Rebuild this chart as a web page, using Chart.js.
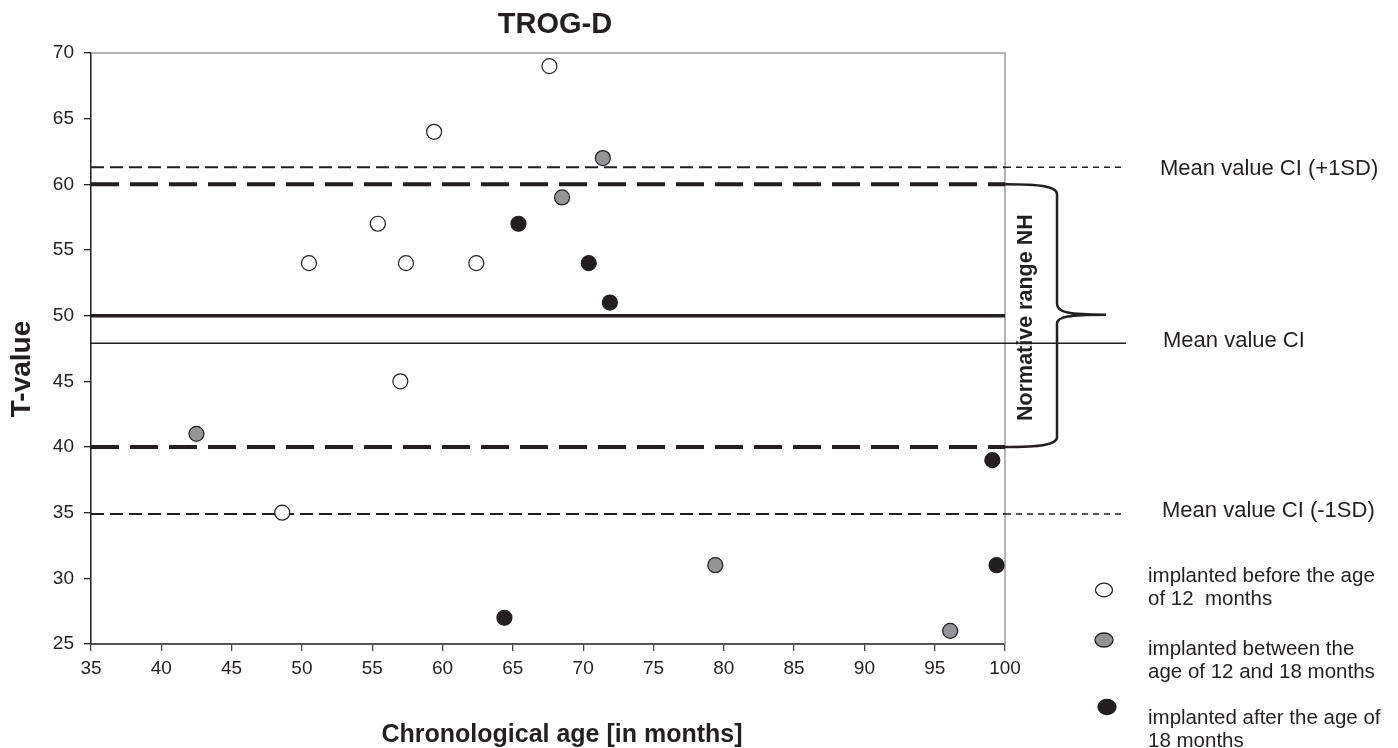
<!DOCTYPE html>
<html>
<head>
<meta charset="utf-8">
<script src="https://cdn.jsdelivr.net/npm/chart.js@4.4.1/dist/chart.umd.min.js"></script>
<style>
  html, body { margin: 0; padding: 0; background: #fff; }
  canvas { display: block; }
</style>
</head>
<body>
<canvas id="chart" width="1398" height="748"></canvas>
<script>
// values
const ageBefore12 = [67.6, 59.4, 55.4, 50.5, 57.4, 62.4, 57.0, 48.6];
const tBefore12 = [69, 64, 57, 54, 54, 54, 45, 35];
const ageBetween = [71.4, 68.5, 42.5, 79.4, 96.1];
const tBetween = [62, 59, 41, 31, 26];
const ageAfter18 = [65.4, 70.4, 71.9, 64.4, 99.1, 99.4];
const tAfter18 = [57, 54, 51, 27, 39, 31];

const normMean = 50, normUpper = 60, normLower = 40;     // normative range NH
const ciMean = 47.9, ciPlus = 61.3, ciMinus = 34.9;      // mean value CI +- 1SD
const xMin = 35, xMax = 100, xLabelEnd = 108.6;
const yMin = 25, yMax = 70;

const legendLabels = [
  ['implanted before the age', 'of 12  months'],
  ['implanted between the', 'age of 12 and 18 months'],
  ['implanted after the age of', '18 months']
];

const dark = '#231f20';
const FONT = '"Liberation Sans", Arial, Helvetica, sans-serif';

function pts(xs, ys) { return xs.map((x, i) => ({x: x, y: ys[i]})); }
function hline(v, x0, x1) { return [{x: x0, y: v}, {x: x1, y: v}]; }

function refLine(v, x0, x1, width, dash, clip) {
  return {
    data: hline(v, x0, x1), showLine: true, pointRadius: 0, pointHoverRadius: 0,
    borderColor: dark, borderWidth: width, borderDash: dash, order: 2,
    clip: clip ? undefined : false, borderCapStyle: 'butt'
  };
}

function pointSet(xs, ys, fill) {
  return {
    data: pts(xs, ys), pointRadius: 7.5, pointHoverRadius: 7.5,
    backgroundColor: fill, borderColor: dark, borderWidth: 1.2, order: 0
  };
}

const extras = {
  id: 'extras',
  beforeDatasetsDraw(chart) {
    const {ctx, chartArea: a} = chart;
    ctx.save();
    ctx.strokeStyle = '#9d9d9d';
    ctx.lineWidth = 1.5;
    ctx.beginPath();
    ctx.moveTo(a.left, a.top);
    ctx.lineTo(a.right, a.top);
    ctx.lineTo(a.right, a.bottom);
    ctx.stroke();
    ctx.restore();
  },
  afterDraw(chart) {
    const {ctx, chartArea: a, scales: {x, y}} = chart;
    const xr = x.getPixelForValue(xMax);
    const y60 = y.getPixelForValue(normUpper);
    const y50 = y.getPixelForValue(normMean);
    const y40 = y.getPixelForValue(normLower);
    const bx = xr + 52, tip = xr + 101;
    ctx.save();
    // curly brace of the normative range
    ctx.strokeStyle = dark;
    ctx.lineWidth = 2.5;
    ctx.beginPath();
    ctx.moveTo(xr, y60);
    ctx.bezierCurveTo(xr + 35, y60, bx, y60 + 2, bx, y60 + 10);
    ctx.lineTo(bx, y50 - 12);
    ctx.bezierCurveTo(bx, y50 - 3, bx + 12, y50 - 1, tip, y50 - 1);
    ctx.bezierCurveTo(bx + 12, y50 - 1, bx, y50 + 1, bx, y50 + 8);
    ctx.lineTo(bx, y40 - 10);
    ctx.bezierCurveTo(bx, y40 - 2, xr + 35, y40, xr, y40);
    ctx.stroke();

    ctx.fillStyle = dark;
    // rotated brace label
    ctx.save();
    ctx.translate(xr + 21, (y60 + y40) / 2 + 2);
    ctx.rotate(-Math.PI / 2);
    ctx.font = 'bold 21.5px ' + FONT;
    ctx.textAlign = 'center';
    ctx.textBaseline = 'middle';
    ctx.fillText('Normative range NH', 0, 0);
    ctx.restore();

    // y axis title
    ctx.save();
    ctx.translate(22, 369);
    ctx.rotate(-Math.PI / 2);
    ctx.font = 'bold 28px ' + FONT;
    ctx.textAlign = 'center';
    ctx.textBaseline = 'middle';
    ctx.fillText('T-value', 0, 0);
    ctx.restore();

    // chart title and x axis title
    ctx.textAlign = 'center';
    ctx.textBaseline = 'alphabetic';
    ctx.font = 'bold 29px ' + FONT;
    ctx.fillText('TROG-D', 555, 33);
    ctx.font = 'bold 25px ' + FONT;
    ctx.fillText('Chronological age [in months]', 562, 742);

    // labels of the CI lines
    ctx.textAlign = 'left';
    ctx.textBaseline = 'middle';
    ctx.font = '22px ' + FONT;
    ctx.fillText('Mean value CI (+1SD)', 1160, y.getPixelForValue(ciPlus) + 2);
    ctx.fillText('Mean value CI', 1163, y.getPixelForValue(ciMean) - 2);
    ctx.fillText('Mean value CI (-1SD)', 1162, y.getPixelForValue(ciMinus) - 3);

    // legend
    const marks = [
      {cx: 1104, cy: 590, fill: '#ffffff', rx: 8.5, ry: 6.8},
      {cx: 1104, cy: 640, fill: '#939598', rx: 9, ry: 7},
      {cx: 1107, cy: 707, fill: dark, rx: 9, ry: 7.5}
    ];
    const baselines = [[581.7, 605], [655, 677.5], [724, 747]];
    ctx.font = '20.5px ' + FONT;
    ctx.textBaseline = 'alphabetic';
    marks.forEach((m, i) => {
      ctx.beginPath();
      ctx.ellipse(m.cx, m.cy, m.rx, m.ry, 0, 0, Math.PI * 2);
      ctx.fillStyle = m.fill;
      ctx.fill();
      ctx.lineWidth = 1.3;
      ctx.strokeStyle = dark;
      ctx.stroke();
      ctx.fillStyle = dark;
      legendLabels[i].forEach((t, j) => ctx.fillText(t, 1148, baselines[i][j]));
    });
    ctx.restore();
  }
};

new Chart(document.getElementById('chart'), {
  type: 'scatter',
  data: {
    datasets: [
      pointSet(ageBefore12, tBefore12, '#ffffff'),
      pointSet(ageBetween, tBetween, '#939598'),
      pointSet(ageAfter18, tAfter18, dark),
      refLine(normUpper, xMin, xMax, 4, [28, 11], true),
      refLine(normLower, xMin, xMax, 4, [28, 11], true),
      refLine(normMean, xMin, xMax, 3.5, [], true),
      refLine(ciMean, xMin, xLabelEnd, 1.5, [], false),
      refLine(ciPlus, xMin, xMax, 2, [13, 6], true),
      refLine(ciPlus, xMax, xLabelEnd, 1.5, [6, 5], false),
      refLine(ciMinus, xMin, xMax, 2, [13, 6], true),
      refLine(ciMinus, xMax, xLabelEnd, 1.5, [6, 5], false)
    ]
  },
  options: {
    responsive: false,
    animation: false,
    devicePixelRatio: 1,
    layout: { padding: { top: 53, right: 393, left: 0, bottom: 0 } },
    plugins: { legend: { display: false }, tooltip: { enabled: false } },
    scales: {
      x: {
        type: 'linear', min: xMin, max: xMax,
        afterFit(s) { s.height = 104; },
        ticks: { stepSize: 5, padding: 6, color: dark, font: { size: 19, family: FONT } },
        grid: { drawOnChartArea: false, tickLength: 7, color: '#444', lineWidth: 1.3 },
        border: { color: '#555', width: 2 }
      },
      y: {
        type: 'linear', min: yMin, max: yMax,
        afterFit(s) { s.width = 91; },
        ticks: { stepSize: 5, padding: 10, color: dark, font: { size: 19, family: FONT } },
        grid: { drawOnChartArea: false, tickLength: 7, color: dark, lineWidth: 1.3 },
        border: { color: dark, width: 1.5 }
      }
    }
  },
  plugins: [extras]
});
</script>
</body>
</html>
